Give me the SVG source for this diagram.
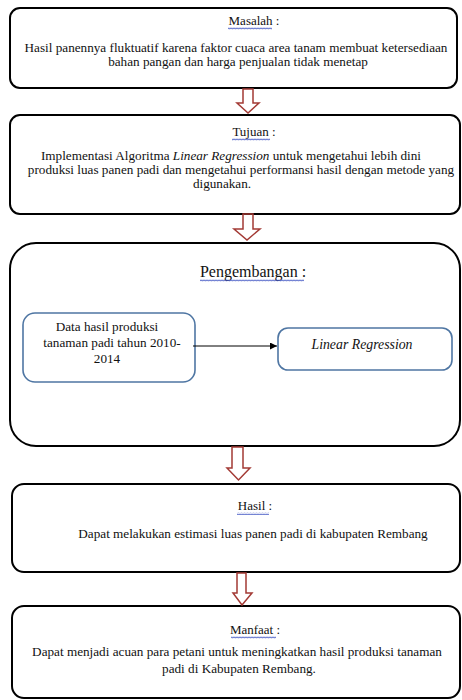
<svg xmlns="http://www.w3.org/2000/svg" width="462" height="700" viewBox="0 0 462 700">
<style>
.box{fill:#fff;stroke:#000;stroke-width:2}
.inner{fill:#fff;stroke:#4f76a3;stroke-width:1.6}
text{font-family:'Liberation Serif','Times New Roman','DejaVu Serif',serif;fill:#111;text-anchor:middle}
.t{font-size:13.2px}
.ttl{font-size:13px}
.big{font-size:16px}
.it{font-style:italic}
.blk{fill:none;stroke:#a33a35;stroke-width:1.5}
.wave{fill:url(#wv)}
</style>
<defs>
<pattern id="wv" width="3" height="3" patternUnits="userSpaceOnUse">
<path d="M0,2.2 L0.75,0.8 L1.5,2.2 L2.25,0.8 L3,2.2" fill="none" stroke="#3a4fc0" stroke-width="0.7"/>
</pattern>
<marker id="ah" viewBox="0 0 10 10" refX="10" refY="5" markerWidth="7" markerHeight="7" orient="auto" markerUnits="userSpaceOnUse">
<path d="M0,0 L10,5 L0,10 Z" fill="#000"/>
</marker>
</defs>

<g id="masalah">
<rect class="box" x="10" y="8" width="447" height="80" rx="10"/>
<text class="ttl" x="254" y="25">Masalah :</text>
<rect class="wave" x="228" y="27" width="44" height="3"/>
<text class="t" x="236" y="52">Hasil panennya fluktuatif karena faktor cuaca area tanam membuat ketersediaan</text>
<text class="t" x="238" y="66">bahan pangan dan harga penjualan tidak menetap</text>
</g>

<g id="tujuan">
<rect class="box" x="10" y="115" width="450" height="99" rx="10"/>
<text class="ttl" x="254" y="136">Tujuan :</text>
<rect class="wave" x="232" y="138" width="38" height="3"/>
<text class="t" x="231" y="160">Implementasi Algoritma <tspan class="it">Linear Regression</tspan> untuk mengetahui lebih dini</text>
<text class="t" x="241" y="174">produksi luas panen padi dan mengetahui performansi hasil dengan metode yang</text>
<text class="t" x="222" y="188">digunakan.</text>
</g>

<g id="pengembangan">
<rect class="box" x="10" y="243" width="450" height="203" rx="26"/>
<text class="ttl big" x="253" y="277">Pengembangan :</text>
<rect class="wave" x="200" y="279" width="104" height="3"/>
</g>

<g id="data">
<rect class="inner" x="23" y="313" width="172" height="69" rx="12"/>
<text class="t" x="107" y="331">Data hasil produksi</text>
<text class="t" x="112" y="347">tanaman padi tahun 2010-</text>
<text class="t" x="107" y="363">2014</text>
</g>

<g id="linreg">
<rect class="inner" x="278" y="328" width="174" height="42" rx="10"/>
<text class="t it" x="362" y="349" style="font-size:13.8px">Linear Regression</text>
</g>

<g id="hasil">
<rect class="box" x="12" y="484" width="448" height="88" rx="12"/>
<text class="ttl" x="255" y="510">Hasil :</text>
<rect class="wave" x="237" y="512" width="32" height="3"/>
<text class="t" x="253" y="538">Dapat melakukan estimasi luas panen padi di kabupaten Rembang</text>
</g>

<g id="manfaat">
<rect class="box" x="12" y="606" width="448" height="92" rx="12"/>
<text class="ttl" x="255" y="634">Manfaat :</text>
<rect class="wave" x="231" y="636" width="45" height="3"/>
<text class="t" x="237" y="656">Dapat menjadi acuan para petani untuk meningkatkan hasil produksi tanaman</text>
<text class="t" x="239" y="673">padi di Kabupaten Rembang.</text>
</g>

<g id="connectors">
<path class="blk" d="M243,89 L243,103 L237,103 L248,113 L259,103 L253,103 L253,89 Z"/>
<path class="blk" d="M243,214 L243,229 L234,229 L247,240 L260,229 L253,229 L253,214 Z"/>
<path class="blk" d="M232,447 L232,468 L227,468 L238.5,480 L250,468 L243,468 L243,447 Z"/>
<path class="blk" d="M237,573 L237,593 L233,593 L242,605 L252,593 L246,593 L246,573 Z"/>
<line x1="193" y1="346" x2="277" y2="346" stroke="#000" stroke-width="1" marker-end="url(#ah)"/>
</g>
</svg>
